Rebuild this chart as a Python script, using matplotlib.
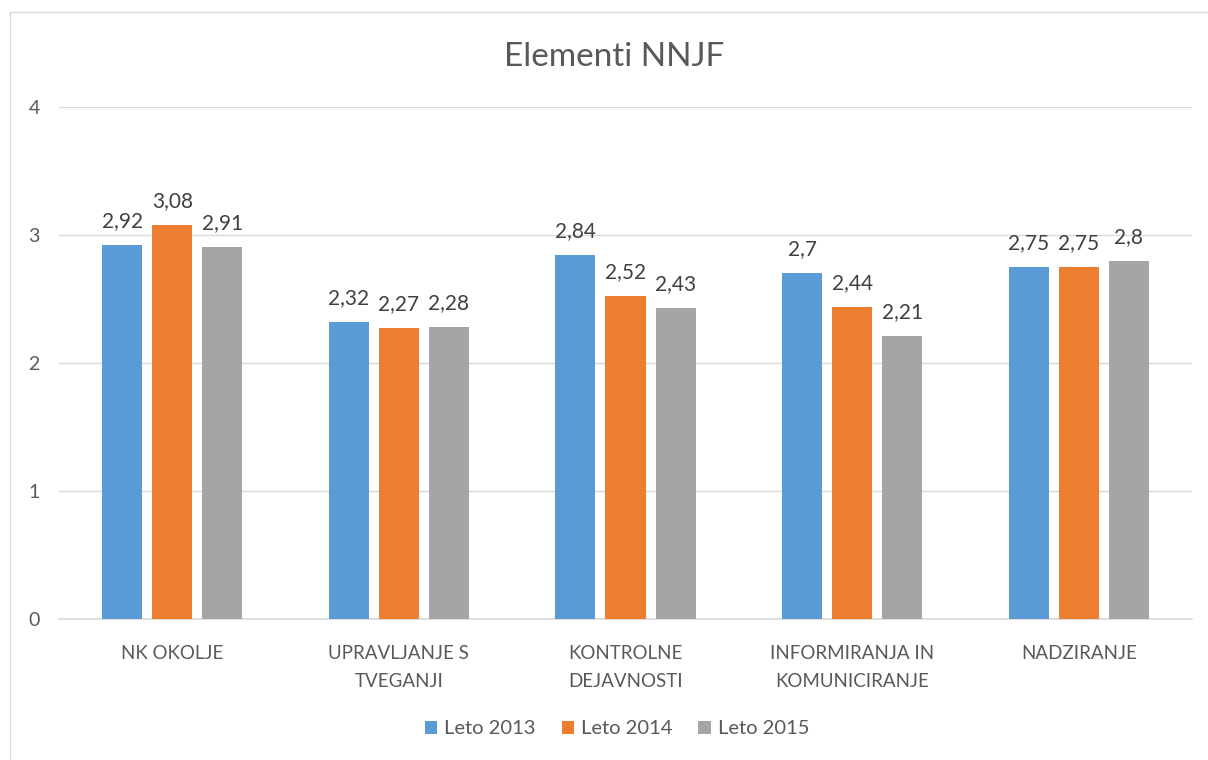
import numpy as np
import matplotlib
matplotlib.use("Agg")
import matplotlib.pyplot as plt
from matplotlib.patches import Rectangle

categories = ["NK OKOLJE", "UPRAVLJANJE S\nTVEGANJI", "KONTROLNE\nDEJAVNOSTI",
              "INFORMIRANJA IN\nKOMUNICIRANJE", "NADZIRANJE"]
series = ["Leto 2013", "Leto 2014", "Leto 2015"]
leto_2013 = [2.92, 2.32, 2.84, 2.70, 2.75]
leto_2014 = [3.08, 2.27, 2.52, 2.44, 2.75]
leto_2015 = [2.91, 2.28, 2.43, 2.21, 2.80]
COLORS = ["#5B9BD5", "#ED7D31", "#A5A5A5"]
TXT = "#595959"

plt.rcParams["font.family"] = ["Lato", "DejaVu Sans"]

fig = plt.figure(figsize=(12.08, 7.6), dpi=100)
ax = fig.add_axes([59 / 1208, 1 - 619 / 760, (1192 - 59) / 1208, (619 - 107) / 760])

# light chart-area frame (left and top edges visible in the reference)
fig.patches.append(Rectangle((10 / 1208, -0.1), 1.2, 1 - 12 / 760 + 0.1, transform=fig.transFigure,
                             fill=False, edgecolor="#D9D9D9", lw=1.0))

x = np.arange(len(categories))
w, step = 0.177, 0.221
for i, (name, vals) in enumerate(zip(series, [leto_2013, leto_2014, leto_2015])):
    bars = ax.bar(x + (i - 1) * step, vals, width=w, color=COLORS[i], label=name, zorder=3)
    ax.bar_label(bars, labels=[f"{v:g}".replace(".", ",") for v in vals], padding=10,
                 fontsize=15, color="#404040")

ax.set_xlim(-0.5, len(categories) - 0.5)
ax.set_ylim(0, 4)
ax.set_yticks([0, 1, 2, 3, 4])
ax.grid(axis="y", color="#D9D9D9", lw=1.0, zorder=0)
ax.set_xticks(x)
ax.set_xticklabels(categories, fontsize=13.5, color=TXT, linespacing=1.75)
ax.tick_params(axis="x", length=0, pad=19)
ax.tick_params(axis="y", length=0, pad=14, labelsize=14, labelcolor=TXT)
for s in ("top", "right", "left"):
    ax.spines[s].set_visible(False)
ax.spines["bottom"].set_color("#D9D9D9")
ax.spines["bottom"].set_linewidth(1.2)

fig.text(614 / 1208, 1 - 57 / 760, "Elementi NNJF", ha="center", va="center", fontsize=24, color=TXT)
fig.legend(loc="center", bbox_to_anchor=(617 / 1208, 1 - 729 / 760), ncol=3, frameon=False,
           fontsize=14.5, handlelength=0.6, handleheight=0.6, handletextpad=0.35, columnspacing=1.3,
           labelcolor=TXT)

fig.savefig("out.png", dpi=100)
